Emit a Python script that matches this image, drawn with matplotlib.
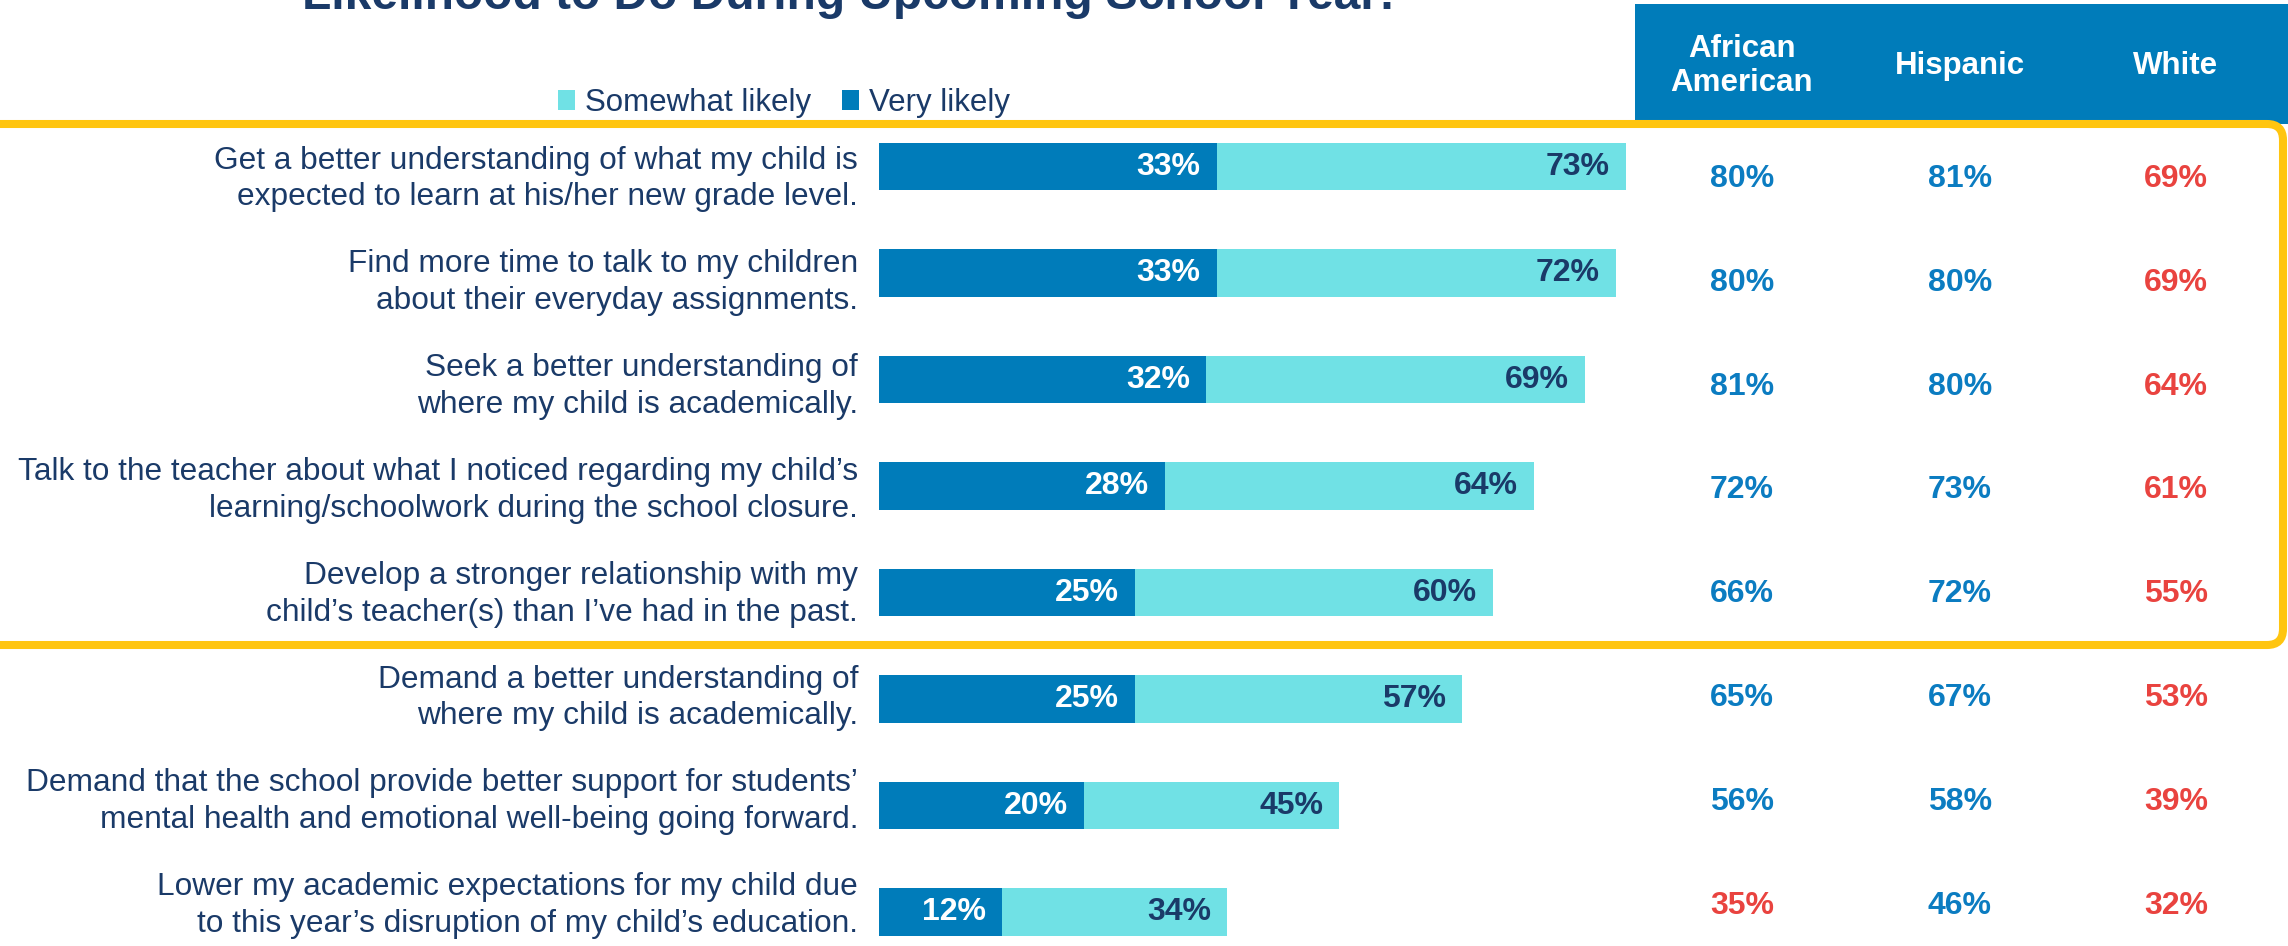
import matplotlib
matplotlib.use('Agg')
import matplotlib.pyplot as plt
from matplotlib.patches import FancyBboxPatch, Rectangle
import numpy as np

plt.rcParams['font.family'] = ['Liberation Sans', 'DejaVu Sans']

# data
items = [
    "Get a better understanding of what my child is\nexpected to learn at his/her new grade level.",
    "Find more time to talk to my children\nabout their everyday assignments.",
    "Seek a better understanding of\nwhere my child is academically.",
    "Talk to the teacher about what I noticed regarding my child\u2019s\nlearning/schoolwork during the school closure.",
    "Develop a stronger relationship with my\nchild\u2019s teacher(s) than I\u2019ve had in the past.",
    "Demand a better understanding of\nwhere my child is academically.",
    "Demand that the school provide better support for students\u2019\nmental health and emotional well-being going forward.",
    "Lower my academic expectations for my child due\nto this year\u2019s disruption of my child\u2019s education.",
]
very_likely = [33, 33, 32, 28, 25, 25, 20, 12]
total_likely = [73, 72, 69, 64, 60, 57, 45, 34]
somewhat_likely = [t - v for t, v in zip(total_likely, very_likely)]

groups = ["African\nAmerican", "Hispanic", "White"]
african_american = [80, 80, 81, 72, 66, 65, 56, 35]
hispanic = [81, 80, 80, 73, 72, 67, 58, 46]
white = [69, 69, 64, 61, 55, 53, 39, 32]
# 1 = shown in red
aa_flag = [0, 0, 0, 0, 0, 0, 0, 1]
hisp_flag = [0, 0, 0, 0, 0, 0, 0, 0]
white_flag = [1, 1, 1, 1, 1, 1, 1, 1]

# colours
DARK = '#007cba'
LIGHT = '#70e1e5'
NAVY = '#1a3a68'
TBLUE = '#0b7cc1'
RED = '#e9433f'
GOLD = '#ffc510'

W, H = 2288, 946
fig = plt.figure(figsize=(W / 100, H / 100), dpi=100)

# pixel-space overlay axes for boxes, labels, table
tax = fig.add_axes([0, 0, 1, 1])
tax.set_xlim(0, W)
tax.set_ylim(H, 0)
tax.axis('off')

# header box
tax.add_patch(Rectangle((1635, 4), W - 1635 + 10, 120, facecolor=DARK, edgecolor='none', zorder=1))
col_x = [1742, 1960, 2176]
for gx, g in zip(col_x, groups):
    tax.text(gx, 66, g, color='white', fontsize=22.5, fontweight='bold',
             ha='center', va='center', linespacing=1.15, zorder=3)

# gold rounded frame
tax.add_patch(FancyBboxPatch((-40, 124), 2283 + 40, 521,
                             boxstyle='round,pad=0,rounding_size=16',
                             facecolor='none', edgecolor=GOLD, linewidth=5.8, zorder=2))

# title (cut at top, as in the original)
fig.text(849 / W, 1 - 9 / H, "Likelihood to Do During Upcoming School Year:",
         color=NAVY, fontsize=34.5, fontweight='bold', ha='center', va='baseline')

# row labels and table values
row_y = [179 + 103.8 * i for i in range(len(items))]
for i, lab in enumerate(items):
    tax.text(858, row_y[i], lab, color=NAVY, fontsize=22.8, ha='right', va='center',
             linespacing=1.3)
    for cx, vals, flags in zip(col_x, [african_american, hispanic, white],
                               [aa_flag, hisp_flag, white_flag]):
        tax.text(cx, row_y[i], f"{vals[i]}%", color=RED if flags[i] else TBLUE,
                 fontsize=23, fontweight='bold', ha='center', va='center')

# bar axes: left at 879 px, 100% = 1023 px, rows 106.5 px apart starting at 166.5 px
bar_top = 166.5 - 53.25
rows_span = (H - bar_top) / 106.5
ax = fig.add_axes([879 / W, 0, 1023 / W, (H - bar_top) / H])
ax.set_xlim(0, 100)
ax.set_ylim(-0.5 + rows_span, -0.5)
ax.axis('off')
ax.patch.set_alpha(0)

y = np.arange(len(items))
b1 = ax.barh(y, very_likely, height=0.45, color=DARK, label='Very likely')
b2 = ax.barh(y, somewhat_likely, left=very_likely, height=0.45, color=LIGHT, label='Somewhat likely')

for i in range(len(items)):
    ax.annotate(f"{very_likely[i]}%", xy=(very_likely[i], y[i]), xytext=(-11.5, 0),
                textcoords='offset points', ha='right', va='center',
                color='white', fontsize=23, fontweight='bold')
    ax.annotate(f"{total_likely[i]}%", xy=(total_likely[i], y[i]), xytext=(-11.5, 0),
                textcoords='offset points', ha='right', va='center',
                color=NAVY, fontsize=23, fontweight='bold')

fig.legend([b2, b1], ['Somewhat likely', 'Very likely'], loc='center',
           bbox_to_anchor=(784 / W, 1 - 103 / H), ncol=2, frameon=False,
           fontsize=22.5, labelcolor=NAVY, handlelength=0.55, handleheight=0.6,
           handletextpad=0.3, columnspacing=1.0, borderpad=0, borderaxespad=0)

fig.savefig('out.png', dpi=100)
